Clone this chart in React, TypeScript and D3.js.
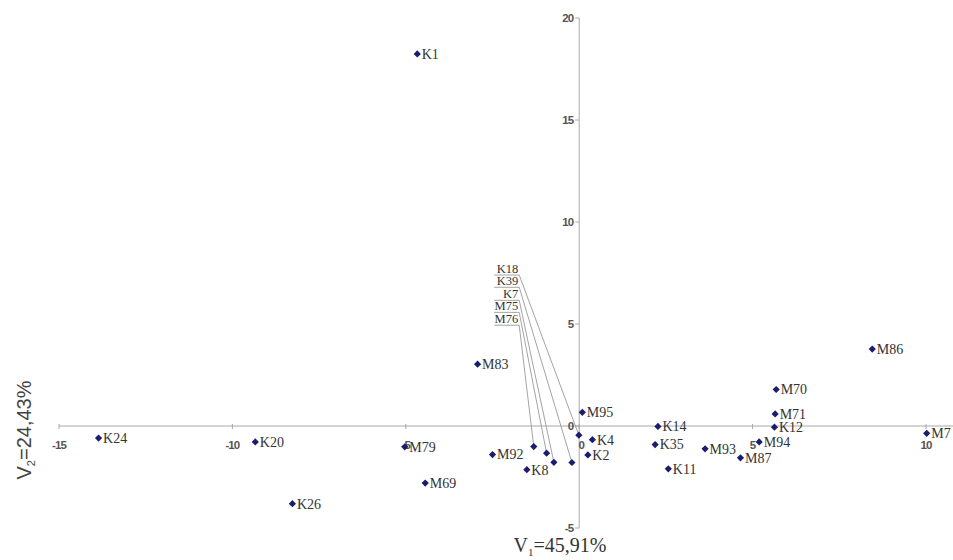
import React from "react";
import * as d3 from "d3";

// Plain labelled points
const names = ["K1", "K24", "K20", "K26", "M79", "M69", "M83", "M92", "K8", "M95", "K4", "K2", "K14", "K35", "K11", "M93", "M87", "M94", "K12", "M71", "M70", "M86", "M7"];
const xVals = [-4.67, -13.86, -9.34, -8.27, -5.03, -4.44, -2.93, -2.50, -1.51, 0.09, 0.38, 0.25, 2.27, 2.19, 2.57, 3.63, 4.65, 5.19, 5.63, 5.65, 5.68, 8.45, 10.02];
const yVals = [18.24, -0.59, -0.78, -3.81, -1.02, -2.80, 3.03, -1.40, -2.14, 0.67, -0.67, -1.42, -0.02, -0.91, -2.10, -1.12, -1.56, -0.78, -0.06, 0.59, 1.79, 3.77, -0.36];

// Points with callout labels (leader lines)
const calloutNames = ["K18", "K39", "K7", "M75", "M76"];
const calloutX = [-0.01, -0.21, -0.73, -0.94, -1.31];
const calloutY = [-0.45, -1.79, -1.78, -1.33, -1.01];
const calloutLabelX = [-1.73, -1.73, -1.73, -1.73, -1.73];
const calloutLabelY = [7.40, 6.80, 6.16, 5.57, 4.94];

const xTicks = [-15, -10, -5, 0, 5, 10];
const yTicks = [-5, 0, 5, 10, 15, 20];

const W = 953;
const H = 560;

export default function App() {
  const x = d3.scaleLinear().domain([-15, 10]).range([59, 926]);
  const y = d3.scaleLinear().domain([-5, 20]).range([528, 18]);
  const s = 3.6;
  const diamond = `M0,${-s}L${s},0L0,${s}L${-s},0Z`;
  const markerColor = "#1c1c6e";
  const axisColor = "#a8a8a8";
  const tickFont = "'Liberation Sans', Arial, sans-serif";
  const serif = "'Liberation Serif', 'Times New Roman', serif";

  return (
    <svg width={W} height={H} style={{ position: "absolute", left: 0, top: 0, background: "#fff" }}>
      {/* axes */}
      <line x1={x(-15)} x2={W} y1={y(0)} y2={y(0)} stroke={axisColor} strokeWidth={1} />
      <line x1={x(0)} x2={x(0)} y1={y(20)} y2={y(-5)} stroke={axisColor} strokeWidth={1} />
      {xTicks.map((t) => (
        <g key={"xt" + t}>
          <line x1={x(t)} x2={x(t)} y1={y(0) - 2} y2={y(0) + 3} stroke={axisColor} />
          <text x={x(t) + (t === 0 ? 2 : 0)} y={y(0) + 23} textAnchor="middle" fontFamily={tickFont} fontSize={11.5} fontWeight={600} fill="#555" letterSpacing={-0.9}>
            {t}
          </text>
        </g>
      ))}
      {yTicks.map((t) => (
        <g key={"yt" + t}>
          <line x1={x(0) - 4} x2={x(0)} y1={y(t)} y2={y(t)} stroke={axisColor} />
          <text x={x(0) - 6} y={y(t)} dy="0.35em" textAnchor="end" fontFamily={tickFont} fontSize={11.5} fontWeight={600} fill="#555" letterSpacing={-0.9}>
            {t}
          </text>
        </g>
      ))}

      {/* leader lines for callouts */}
      {calloutNames.map((n, i) => {
        const lx = x(calloutLabelX[i]);
        const ly = y(calloutLabelY[i]);
        return (
          <g key={"cl" + n}>
            <line x1={lx - 25} x2={lx} y1={ly} y2={ly} stroke="#999" strokeWidth={0.9} />
            <line x1={lx} x2={x(calloutX[i])} y1={ly} y2={y(calloutY[i])} stroke="#999" strokeWidth={0.9} />
            <text x={lx - 1} y={ly - 2.5} textAnchor="end" fontFamily={serif} fontSize={12.5} fill="#333">
              {n}
            </text>
          </g>
        );
      })}

      {/* callout markers */}
      {calloutNames.map((n, i) => (
        <path key={"cm" + n} d={diamond} transform={`translate(${x(calloutX[i])},${y(calloutY[i])})`} fill={markerColor} />
      ))}

      {/* labelled points */}
      {names.map((n, i) => (
        <g key={n}>
          <path d={diamond} transform={`translate(${x(xVals[i])},${y(yVals[i])})`} fill={markerColor} />
          <text x={x(xVals[i]) + 4.5} y={y(yVals[i])} dy="0.35em" fontFamily={serif} fontSize={14} fill="#333">
            {n}
          </text>
        </g>
      ))}

      {/* axis titles */}
      <text x={560} y={552} textAnchor="middle" fontFamily={serif} fontSize={20} fill="#333">
        V<tspan fontSize={11} dy={4}>1</tspan>
        <tspan dy={-4}>=45,91%</tspan>
      </text>
      <text transform="translate(31,430) rotate(-90)" textAnchor="middle" fontFamily={tickFont} fontSize={20} fill="#444">
        V<tspan fontSize={11} dy={4}>2</tspan>
        <tspan dy={-4}>=24,43%</tspan>
      </text>
    </svg>
  );
}
